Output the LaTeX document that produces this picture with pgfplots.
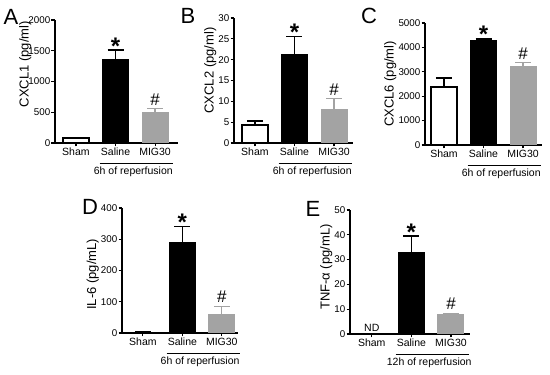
\documentclass[border=0pt]{standalone}
\usepackage{fontspec}
\setmainfont{Liberation Sans}
\usepackage{pgfplots}
\pgfplotsset{compat=1.18}
\definecolor{mgray}{RGB}{163,163,163}
\pgfplotsset{
 panel/.style={
  scale only axis, axis lines=left, axis line style={line width=1.1pt,-},
  ymin=0, clip=false,
  xtick={0,1,2}, xticklabels={Sham,Saline,MIG30},
  tick style={line width=1.1pt, black}, tick align=outside, major tick length=3.5pt,
  x tick label style={font=\fontsize{10.5}{11}\selectfont, inner sep=1.5pt},
  y tick label style={font=\fontsize{9.8}{11}\selectfont, inner sep=1pt},
  /pgf/number format/assume math mode=true,
  /pgf/number format/1000 sep={},
  ylabel style={font=\fontsize{13}{14}\selectfont, inner sep=1pt},
  ybar, bar width=26pt, bar shift=0pt,
  error bars/y dir=plus, error bars/y explicit,
 },
 sham/.style={fill=white, draw=black, line width=1.3pt,
   error bars/error bar style={line width=1.3pt,black},
   error bars/error mark options={line width=1.3pt, mark size=8pt, black, rotate=90}},
 saline/.style={fill=black, draw=black, line width=1pt,
   error bars/error bar style={line width=1.3pt,black},
   error bars/error mark options={line width=1.3pt, mark size=8pt, black, rotate=90}},
 mig/.style={fill=mgray, draw=mgray, line width=1pt,
   error bars/error bar style={line width=1.3pt,mgray},
   error bars/error mark options={line width=1.3pt, mark size=8pt, mgray, rotate=90}},
}
\newcommand{\sigstar}[1]{\node[font=\fontsize{24}{24}\selectfont\bfseries, anchor=base] at ([yshift=-4pt]axis cs:1,#1) {*};}
\newcommand{\sighash}[1]{\node[font=\fontsize{17}{17}\selectfont, anchor=base] at ([yshift=3.5pt]axis cs:2,#1) {\#};}
\newcommand{\reper}[1]{%
 \draw[line width=0.8pt] ([yshift=-20pt]axis cs:0.6,0) -- ([yshift=-20pt]axis cs:2.45,0);
 \node[font=\fontsize{10.5}{11}\selectfont] at ([yshift=-29pt]axis cs:1.45,0) {#1};}
\begin{document}
\begin{tikzpicture}
\useasboundingbox (0pt,0pt) rectangle (550pt,375pt);
\node[font=\fontsize{22}{22}\selectfont] at (11pt,358pt) {A};
\node[font=\fontsize{22}{22}\selectfont] at (188pt,359pt) {B};
\node[font=\fontsize{22}{22}\selectfont] at (369pt,359pt) {C};
\node[font=\fontsize{22}{22}\selectfont] at (90pt,168pt) {D};
\node[font=\fontsize{22}{22}\selectfont] at (313pt,166pt) {E};
% A
\begin{axis}[panel, at={(55pt,232pt)}, anchor=south west, width=123pt, height=123pt,
  xmin=-0.53, xmax=2.58, ymax=2000, ytick={0,500,1000,1500,2000},
  ylabel={CXCL1 (pg/ml)}, ylabel style={at={(ticklabel cs:0.64,-5pt)}}]
\addplot[sham] coordinates {(0,80) +- (0,10)};
\addplot[saline] coordinates {(1,1350) +- (0,160)};
\addplot[mig] coordinates {(2,490) +- (0,70)};
\sigstar{1510} \sighash{560} \reper{6h of reperfusion}
\end{axis}
% B
\begin{axis}[panel, at={(234pt,232pt)}, anchor=south west, width=119pt, height=125pt,
  xmin=-0.53, xmax=2.48, ymax=30, ytick={0,5,...,30},
  ylabel={CXCL2 (pg/ml)}, ylabel style={at={(ticklabel cs:0.58)}}]
\addplot[sham] coordinates {(0,4.3) +- (0,1.0)};
\addplot[saline] coordinates {(1,21.2) +- (0,4.3)};
\addplot[mig] coordinates {(2,8.0) +- (0,2.6)};
\sigstar{25.5} \sighash{10.6} \reper{6h of reperfusion}
\end{axis}
% C
\begin{axis}[panel, at={(425pt,230pt)}, anchor=south west, width=117pt, height=122pt,
  xmin=-0.48, xmax=2.48, ymax=5000, ytick={0,1000,...,5000},
  ylabel={CXCL6 (pg/ml)}, ylabel style={at={(ticklabel cs:0.5)}}]
\addplot[sham] coordinates {(0,2380) +- (0,370)};
\addplot[saline] coordinates {(1,4270) +- (0,80)};
\addplot[mig] coordinates {(2,3200) +- (0,180)};
\sigstar{4350} \sighash{3380} \reper{6h of reperfusion}
\end{axis}
% D
\begin{axis}[panel, at={(122pt,42pt)}, anchor=south west, width=116pt, height=125pt,
  xmin=-0.53, xmax=2.41, ymax=400, ytick={0,100,...,400},
  ylabel={IL-6 (pg/mL)}, ylabel style={at={(ticklabel cs:0.47)}}]
\addplot[sham] coordinates {(0,2) +- (0,1)};
\addplot[saline] coordinates {(1,290) +- (0,50)};
\addplot[mig] coordinates {(2,60) +- (0,25)};
\sigstar{340} \sighash{85} \reper{6h of reperfusion}
\end{axis}
% E
\begin{axis}[panel, at={(350pt,41pt)}, anchor=south west, width=120pt, height=124pt,
  xmin=-0.55, xmax=2.48, ymax=50, ytick={0,10,...,50},
  ylabel={TNF-α (pg/mL)}, ylabel style={at={(ticklabel cs:0.54)}}]
\addplot[saline] coordinates {(1,33) +- (0,6.5)};
\addplot[mig] coordinates {(2,7.7) +- (0,0.7)};
\node[font=\fontsize{10.5}{11}\selectfont, anchor=south, inner sep=1pt] at ([yshift=1pt]axis cs:0,0) {ND};
\sigstar{39.5} \sighash{8.4} \reper{12h of reperfusion}
\end{axis}
\end{tikzpicture}
\end{document}
